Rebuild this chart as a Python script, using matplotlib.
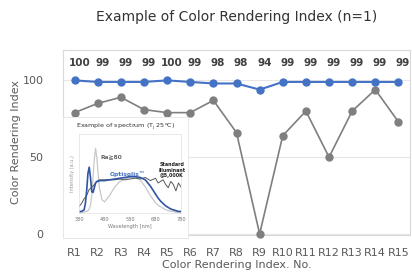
import numpy as np
import matplotlib.pyplot as plt

# main chart data
labels = ['R%d' % i for i in range(1, 16)]
optisolis = [100, 99, 99, 99, 100, 99, 98, 98, 94, 99, 99, 99, 99, 99, 99]
ra80 = [79, 85, 89, 81, 79, 79, 87, 66, 0, 64, 80, 50, 80, 94, 73]

# inset spectrum data
wl = [380, 390, 400, 405, 410, 415, 420, 425, 430, 435, 440, 445, 450, 455, 460,
      470, 480, 500, 520, 540, 560, 580, 600, 620, 640, 660, 680, 690, 700, 710,
      720, 730, 740, 750, 760, 770, 780]
spec_ra80 = [0.00, 0.01, 0.01, 0.02, 0.02, 0.03, 0.05, 0.10, 0.22, 0.45, 0.68, 0.82, 0.70, 0.50, 0.32,
             0.17, 0.14, 0.22, 0.33, 0.40, 0.43, 0.45, 0.46, 0.42, 0.33, 0.22, 0.13, 0.10, 0.08, 0.06,
             0.04, 0.03, 0.02, 0.02, 0.01, 0.01, 0.00]
spec_opt = [0.02, 0.02, 0.04, 0.12, 0.28, 0.50, 0.58, 0.45, 0.27, 0.26, 0.32, 0.38, 0.40, 0.40, 0.41,
            0.41, 0.41, 0.42, 0.43, 0.44, 0.45, 0.46, 0.46, 0.45, 0.42, 0.34, 0.24, 0.19, 0.15, 0.12,
            0.09, 0.07, 0.05, 0.04, 0.03, 0.02, 0.02]
spec_d50 = [0.08, 0.12, 0.18, 0.20, 0.22, 0.26, 0.30, 0.31, 0.33, 0.34, 0.36, 0.38, 0.40, 0.41, 0.42,
            0.42, 0.42, 0.42, 0.42, 0.43, 0.42, 0.43, 0.44, 0.43, 0.45, 0.41, 0.44, 0.38, 0.40, 0.42,
            0.36, 0.32, 0.40, 0.36, 0.28, 0.38, 0.33]

blue = '#4472c4'
grey = '#7f7f7f'
frame = '#d9d9d9'

fig = plt.figure(figsize=(4.12, 2.74), dpi=100)
ax = fig.add_axes([63/412, 1-235/274, 347/412, 185/274])

x = np.arange(1, 16)
ax.plot(x, ra80, color=grey, lw=1.2, marker='o', ms=5, clip_on=False, zorder=3)
ax.plot(x, optisolis, color=blue, lw=1.5, marker='o', ms=5, clip_on=False, zorder=4)
for xi, v in zip(x, optisolis):
    ax.text(xi + 0.2, 111.5, str(v), ha='center', va='center', fontsize=7.5,
            fontweight='bold', color='#404040', clip_on=False)

ax.set_xlim(0.5, 15.5)
ax.set_ylim(-0.7, 119.8)
ax.set_xticks(x)
ax.set_xticklabels(labels)
ax.set_yticks([0, 50, 100])
ax.tick_params(length=0, labelsize=8, labelcolor='#595959')
ax.tick_params(axis='y', pad=14)
ax.tick_params(axis='x', pad=9)
ax.grid(axis='y', color='#e6e6e6', lw=0.8)
ax.set_axisbelow(True)
for s in ax.spines.values():
    s.set_color(frame)
    s.set_linewidth(0.8)
ax.set_xlabel('Color Rendering Index. No.', fontsize=8, color='#595959', labelpad=2)
ax.set_ylabel('Color Rendering Index', fontsize=8, color='#595959', labelpad=1)
fig.text(237/412, 1-17/274, 'Example of Color Rendering Index (n=1)', ha='center', va='center',
         fontsize=10, color='#333333')

# inset: white box with the spectrum picture
box = fig.add_axes([63/412, 1-238/274, 125/412, 121/274])
box.set_xticks([])
box.set_yticks([])
for s in box.spines.values():
    s.set_color('#e4e4e4')
    s.set_linewidth(0.6)
box.text(0.5, 0.92, 'Example of spectrum (T$_\\mathregular{j}$ 25$^\\mathregular{o}$C)',
         transform=box.transAxes, ha='center', va='center', fontsize=4.6, color='#333333')

ins = fig.add_axes([79/412, 1-213/274, 102/412, 79/274])
ins.plot(wl, spec_ra80, color='#c8c8c8', lw=0.9)
ins.plot(wl, spec_d50, color='#595959', lw=0.7)
ins.plot(wl, spec_opt, color='#2f55a4', lw=1.2)
ins.set_xlim(380, 780)
ins.set_ylim(0, 1)
ins.set_xticks([380, 480, 580, 680, 780])
ins.set_yticks([])
ins.tick_params(length=0, labelsize=3.6, labelcolor='#777777', pad=3)
for s in ins.spines.values():
    s.set_color('#e0e0e0')
    s.set_linewidth(0.5)
ins.set_xlabel('Wavelength [nm]', fontsize=3.6, color='#777777', labelpad=1)
ins.set_ylabel('Intensity (a.u.)', fontsize=3.6, color='#999999', labelpad=3)
ins.text(508, 0.71, 'Ra\u226780', fontsize=4.3, fontweight='bold', color='#666666', ha='center', va='center')
ins.text(572, 0.49, 'Optisolis\u2122', fontsize=4.3, fontweight='bold', color='#4472c4', ha='center', va='center')
ins.text(745, 0.54, 'Standard\nilluminant\n@5,000K', fontsize=3.4, fontweight='bold', color='#222222',
         ha='center', va='center', linespacing=1.1)

fig.savefig('out.png', dpi=100)
